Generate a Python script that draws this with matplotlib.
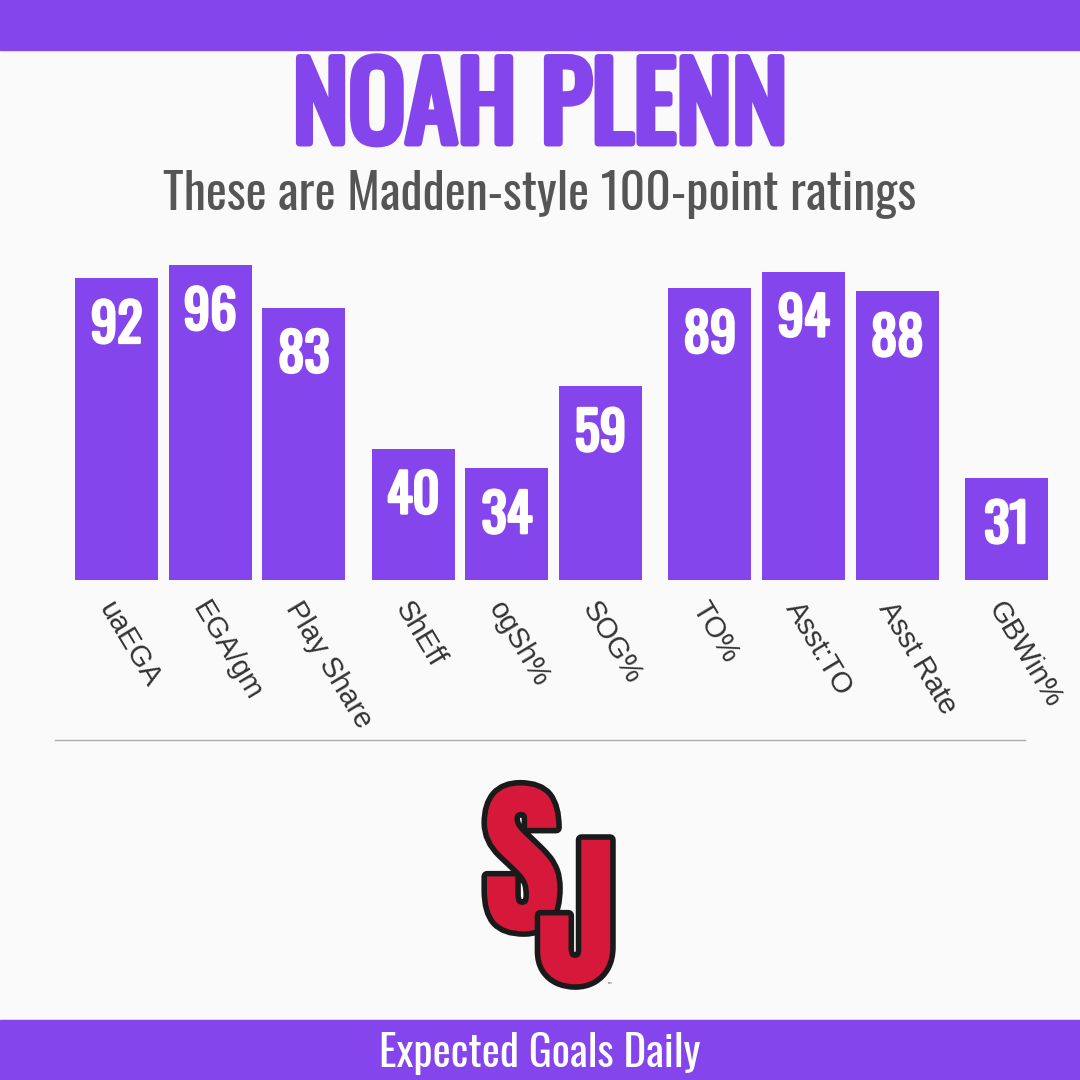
import matplotlib.pyplot as plt
import matplotlib.patheffects as pe
from matplotlib.lines import Line2D

# ratings for each stat
stats = ['uaEGA', 'EGA/gm', 'Play Share', 'ShEff', 'ogSh%', 'SOG%',
         'TO%', 'Asst:TO', 'Asst Rate', 'GBWin%']
ratings = [92, 96, 83, 40, 34, 59, 89, 94, 88, 31]
groups = [0, 0, 0, 1, 1, 1, 2, 2, 2, 3]

player = 'NOAH PLENN'
subtitle = 'These are Madden-style 100-point ratings'
footer = 'Expected Goals Daily'

purple = '#8446EC'
bg = '#FAFAFA'
oswald = ['Oswald', 'DejaVu Sans']

fig = plt.figure(figsize=(10.8, 10.8), dpi=100, facecolor=bg)

# purple bands top and bottom
fig.add_artist(plt.Rectangle((0, 1 - 50/1080), 1, 50/1080, color=purple,
                             transform=fig.transFigure, zorder=0))
fig.add_artist(plt.Rectangle((0, 0), 1, 60/1080, color=purple,
                             transform=fig.transFigure, zorder=0))

# fake bold for Oswald with a stroke of the same colour
bold_p = [pe.Stroke(linewidth=5, foreground=purple), pe.Normal()]
bold_w = [pe.Stroke(linewidth=2, foreground='white'), pe.Normal()]

fig.text(0.5, 1 - 143/1080, player, ha='center', va='baseline',
         fontsize=76, color=purple, family=oswald, path_effects=bold_p)
fig.text(0.5, 1 - 210/1080, subtitle, ha='center', va='baseline',
         fontsize=36, color='#555555', family=oswald)
fig.text(0.5, 1 - 1067/1080, footer, ha='center', va='baseline',
         fontsize=31, color='white', family=oswald)

# bar chart, positions with small gap between stat groups
x = [i + g * 0.17 for i, g in enumerate(groups)]
ax = fig.add_axes([60/1080, 500/1080, 1000/1080, 328/1080])
ax.set_facecolor('none')
ax.bar(x, ratings, width=0.887, color=purple, clip_on=False)
ax.set_xlim(-0.604, -0.604 + 1000/93.6)
ax.set_ylim(0, 100)
ax.axis('off')

for xi, r, s in zip(x, ratings, stats):
    ax.annotate(str(r), (xi, r), xytext=(0, -48), textcoords='offset pixels',
                ha='center', va='center', fontsize=38, color='white',
                family=oswald, path_effects=bold_w)
    ax.annotate(s, (xi, 0), xytext=(-12, -24), textcoords='offset pixels',
                ha='left', va='center', rotation=-59, rotation_mode='anchor',
                fontsize=21, color='#333333', family=['Liberation Sans', 'DejaVu Sans'],
                annotation_clip=False)

# separator line
fig.add_artist(Line2D([55/1080, 1025/1080], [1 - 740/1080] * 2, color='#aaaaaa',
                      lw=1, transform=fig.transFigure))

# SJ logo
red = '#D6193A'
fx = [pe.Stroke(linewidth=8, foreground='#1a1a1a'), pe.Normal()]
fig.text(522/1080, 1 - 930/1080, 'S', ha='center', va='baseline', fontsize=120,
         color=red, family=['Anton', 'DejaVu Sans'], path_effects=fx)
fig.text(576/1080, 1 - 983/1080, 'J', ha='center', va='baseline', fontsize=120,
         color=red, family=['Anton', 'DejaVu Sans'], path_effects=fx, zorder=3)
fig.text(606/1080, 1 - 986/1080, '\u2122', ha='left', va='center', fontsize=4,
         color='#333333')

fig.savefig('out.png', dpi=100, facecolor=bg)
